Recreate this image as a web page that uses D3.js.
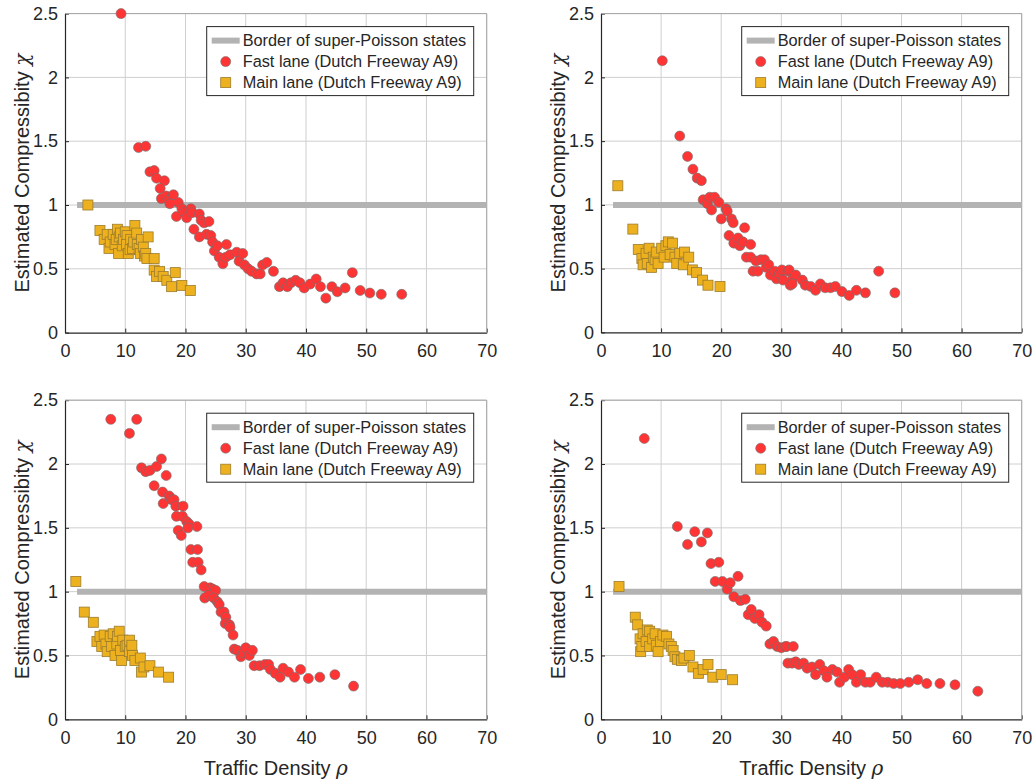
<!DOCTYPE html>
<html>
<head>
<meta charset="utf-8">
<script src="https://cdn.jsdelivr.net/npm/d3@7"></script>
<style>
  html, body { margin: 0; padding: 0; background: #fff; }
  svg { display: block; font-family: "Liberation Sans", Arial, Helvetica, sans-serif; }
</style>
</head>
<body>
<svg id="chart" width="1035" height="782"></svg>
<script>
// Axis ticks shared by every panel
const densityTicks = [0, 10, 20, 30, 40, 50, 60, 70];
const chiTicks = [0, 0.5, 1, 1.5, 2, 2.5];
const chiTickLabels = ["0", "0.5", "1", "1.5", "2", "2.5"];
const borderSegment = [[2, 1], [70, 1]];  // chi = 1 reference line
const legendLabels = ["Border of super-Poisson states", "Fast lane (Dutch Freeway A9)", "Main lane (Dutch Freeway A9)"];

// Measurements: [density, compressibility]
const fastA = [[9.3,2.50],[12.2,1.45],[13.4,1.46],[14.1,1.26],[14.8,1.27],[15.2,1.21],[16.5,1.19],[15.8,1.13],[16.0,1.05],[16.8,1.07],[17.2,1.04],[18.0,1.08],[17.4,1.01],[18.8,1.02],[18.5,0.91],[19.4,0.97],[19.8,0.94],[20.2,0.90],[20.9,0.97],[21.1,0.94],[22.3,0.93],[22.6,0.88],[23.1,0.86],[23.9,0.87],[21.4,0.81],[22.3,0.75],[23.5,0.77],[24.2,0.76],[24.5,0.71],[24.8,0.64],[25.3,0.68],[25.6,0.59],[26.2,0.54],[26.7,0.59],[26.8,0.69],[27.4,0.61],[28.5,0.63],[28.9,0.56],[29.5,0.62],[29.8,0.53],[30.4,0.50],[31.0,0.48],[31.8,0.46],[32.4,0.46],[32.8,0.53],[33.5,0.55],[34.6,0.48],[35.6,0.36],[36.2,0.39],[36.9,0.36],[37.5,0.39],[38.3,0.41],[39.0,0.39],[39.7,0.35],[40.7,0.38],[41.7,0.42],[42.4,0.36],[43.3,0.27],[44.3,0.36],[45.2,0.32],[46.5,0.35],[47.7,0.47],[49.0,0.33],[50.6,0.31],[52.5,0.30],[55.9,0.30]];
const mainA = [[3.8,1.00],[5.8,0.80],[6.5,0.73],[7.0,0.77],[7.3,0.66],[7.5,0.71],[8.0,0.77],[8.7,0.81],[8.3,0.69],[8.5,0.73],[8.9,0.62],[9.0,0.75],[9.2,0.78],[9.5,0.68],[9.7,0.73],[10.0,0.79],[10.3,0.76],[10.2,0.69],[10.5,0.62],[10.8,0.65],[10.9,0.73],[11.2,0.66],[11.4,0.71],[11.6,0.84],[11.9,0.78],[12.0,0.69],[12.3,0.66],[12.5,0.62],[12.7,0.73],[13.0,0.67],[13.2,0.60],[13.4,0.62],[13.8,0.75],[13.6,0.58],[14.8,0.58],[14.8,0.49],[15.2,0.44],[15.7,0.48],[16.3,0.44],[16.9,0.41],[18.3,0.47],[17.7,0.36],[19.4,0.37],[20.8,0.33]];

const fastB = [[10.2,2.13],[13.1,1.54],[14.4,1.38],[15.3,1.28],[16.0,1.21],[16.7,1.19],[17.0,1.04],[17.7,1.01],[18.1,1.06],[18.4,0.96],[18.9,1.06],[19.6,1.02],[20.0,0.89],[20.8,0.97],[21.0,0.95],[21.7,0.89],[22.0,0.86],[21.3,0.76],[22.1,0.70],[22.8,0.74],[23.1,0.68],[23.6,0.71],[23.9,0.82],[24.9,0.69],[24.2,0.59],[24.9,0.59],[25.3,0.48],[25.8,0.56],[26.1,0.48],[26.6,0.57],[27.2,0.57],[27.5,0.51],[27.9,0.53],[28.2,0.45],[28.9,0.48],[29.2,0.42],[29.7,0.46],[30.1,0.49],[30.3,0.41],[31.1,0.48],[31.3,0.49],[31.5,0.37],[31.9,0.42],[32.4,0.45],[31.8,0.38],[33.5,0.41],[34.0,0.37],[34.9,0.36],[35.7,0.33],[36.5,0.38],[37.3,0.35],[38.2,0.35],[39.0,0.36],[40.1,0.32],[41.3,0.29],[42.5,0.33],[44.0,0.31],[46.2,0.48],[48.9,0.31]];
const mainB = [[2.8,1.15],[5.3,0.81],[6.2,0.65],[6.8,0.58],[7.0,0.53],[7.5,0.62],[7.7,0.54],[8.0,0.66],[8.4,0.51],[8.7,0.59],[9.0,0.57],[9.2,0.63],[9.5,0.54],[10.1,0.66],[10.5,0.59],[10.8,0.68],[11.2,0.71],[11.5,0.61],[11.9,0.70],[12.3,0.59],[12.6,0.54],[13.1,0.62],[13.7,0.53],[13.9,0.63],[14.6,0.59],[15.2,0.49],[15.9,0.47],[16.9,0.41],[17.8,0.37],[19.8,0.36]];

const fastC = [[7.6,2.35],[10.7,2.24],[11.9,2.35],[12.7,1.97],[13.4,1.94],[14.1,1.95],[15.2,1.98],[16.0,2.04],[16.8,1.91],[14.8,1.83],[16.2,1.78],[16.3,1.69],[17.3,1.75],[17.7,1.72],[18.1,1.72],[18.4,1.67],[18.5,1.59],[19.6,1.67],[19.5,1.59],[18.8,1.48],[19.3,1.44],[20.2,1.55],[20.6,1.53],[20.4,1.50],[21.9,1.51],[20.9,1.33],[22.0,1.33],[21.2,1.23],[22.1,1.23],[22.6,1.17],[23.1,1.04],[23.2,0.95],[24.1,1.03],[24.5,1.02],[25.0,1.01],[23.8,0.97],[24.7,0.95],[25.3,0.92],[25.6,0.90],[25.9,0.84],[26.4,0.84],[26.7,0.80],[26.6,0.75],[27.3,0.74],[27.4,0.72],[27.9,0.66],[28.1,0.55],[28.6,0.54],[29.2,0.49],[29.6,0.52],[30.0,0.56],[30.6,0.50],[31.1,0.54],[31.4,0.42],[32.3,0.42],[33.2,0.43],[33.8,0.43],[34.1,0.39],[34.9,0.36],[35.7,0.33],[36.2,0.40],[37.1,0.37],[38.1,0.33],[39.1,0.39],[40.4,0.32],[42.3,0.33],[44.8,0.35],[47.9,0.26]];
const mainC = [[1.8,1.08],[3.2,0.84],[4.7,0.76],[5.3,0.61],[5.8,0.65],[6.1,0.57],[6.5,0.66],[6.8,0.59],[7.0,0.53],[7.5,0.65],[7.7,0.57],[8.0,0.67],[8.3,0.50],[8.6,0.59],[8.7,0.65],[9.0,0.69],[9.2,0.54],[9.4,0.46],[9.6,0.62],[10.0,0.57],[10.3,0.58],[10.7,0.53],[10.7,0.62],[11.1,0.58],[11.2,0.50],[11.6,0.46],[12.5,0.48],[12.7,0.37],[13.1,0.41],[14.1,0.42],[15.5,0.37],[17.2,0.33]];

const fastD = [[7.2,2.20],[12.7,1.51],[14.4,1.37],[15.6,1.47],[16.7,1.39],[17.7,1.46],[18.3,1.22],[19.6,1.23],[19.0,1.08],[20.2,1.08],[21.0,1.02],[21.5,1.07],[22.8,1.12],[22.1,0.96],[23.2,0.93],[24.0,0.94],[24.5,0.82],[25.0,0.86],[25.6,0.79],[26.3,0.82],[26.8,0.76],[27.5,0.73],[28.1,0.59],[28.7,0.61],[29.3,0.57],[30.0,0.56],[30.7,0.57],[30.9,0.57],[31.1,0.44],[31.8,0.44],[32.0,0.57],[32.4,0.45],[32.9,0.43],[33.7,0.44],[34.3,0.40],[35.1,0.41],[35.7,0.35],[36.4,0.43],[37.1,0.38],[37.6,0.33],[38.5,0.39],[39.3,0.37],[39.7,0.29],[40.5,0.33],[41.2,0.39],[41.8,0.35],[42.5,0.29],[43.2,0.35],[44.0,0.29],[44.8,0.29],[45.8,0.33],[46.8,0.29],[47.7,0.29],[48.7,0.28],[49.8,0.28],[51.2,0.29],[52.7,0.31],[54.2,0.28],[56.4,0.28],[58.9,0.27],[62.7,0.22]];
const mainD = [[3.0,1.04],[5.7,0.80],[6.1,0.74],[6.5,0.63],[6.6,0.53],[6.8,0.57],[7.0,0.67],[7.5,0.61],[7.7,0.70],[8.1,0.57],[8.1,0.69],[8.6,0.63],[9.0,0.67],[9.2,0.58],[9.5,0.53],[9.9,0.61],[10.3,0.66],[10.9,0.65],[11.3,0.59],[11.7,0.57],[12.0,0.54],[12.3,0.49],[12.7,0.47],[13.4,0.46],[13.8,0.48],[14.7,0.50],[15.3,0.41],[16.2,0.36],[17.0,0.39],[17.8,0.43],[18.6,0.33],[20.0,0.35],[21.9,0.31]];

const panels = [
  { fast: fastA, main: mainA, left: 65,  right: 486.7,  top: 13.6,  bottom: 332.6, labelX: false },
  { fast: fastB, main: mainB, left: 601, right: 1021.7, top: 13.6,  bottom: 332.4, labelX: false },
  { fast: fastC, main: mainC, left: 65,  right: 486.7,  top: 400.2, bottom: 719.3, labelX: true },
  { fast: fastD, main: mainD, left: 601, right: 1021.7, top: 400.2, bottom: 719.3, labelX: true }
];

const RED = "#ff3535", RED_EDGE = "#6e6e6e";
const GOLD = "#edb120", GOLD_EDGE = "#9c7c2c";
const BORDER_GRAY = "#b3b3b3";
const GRID = "#cfcfcf", AXIS = "#262626";

const svg = d3.select("#chart");

panels.forEach(p => {
  const x = d3.scaleLinear().domain([0, 70]).range([p.left, p.right]);
  const y = d3.scaleLinear().domain([0, 2.5]).range([p.bottom, p.top]);
  const g = svg.append("g");

  // grid
  g.append("g").selectAll("line").data(densityTicks.slice(1)).join("line")
    .attr("x1", d => x(d)).attr("x2", d => x(d))
    .attr("y1", p.top).attr("y2", p.bottom)
    .attr("stroke", GRID).attr("stroke-width", 1);
  g.append("g").selectAll("line").data(chiTicks.slice(1)).join("line")
    .attr("x1", p.left).attr("x2", p.right)
    .attr("y1", d => y(d)).attr("y2", d => y(d))
    .attr("stroke", GRID).attr("stroke-width", 1);

  // axes (ticks point inward)
  const xAxis = d3.axisBottom(x).tickValues(densityTicks).tickSizeInner(-4).tickSizeOuter(0).tickPadding(12);
  const yAxis = d3.axisLeft(y).tickValues(chiTicks).tickFormat((d, i) => chiTickLabels[i]).tickSizeInner(-4).tickSizeOuter(0).tickPadding(7);
  const gx = g.append("g").attr("transform", `translate(0,${p.bottom})`).call(xAxis);
  const gy = g.append("g").attr("transform", `translate(${p.left},0)`).call(yAxis);
  [gx, gy].forEach(a => {
    a.select(".domain").attr("stroke", AXIS).attr("stroke-width", 1.2);
    a.selectAll(".tick line").attr("stroke", AXIS);
    a.selectAll(".tick text").attr("fill", "#262626").attr("font-size", 18)
      .attr("font-family", "Liberation Sans, Arial, sans-serif");
  });
  // box top/right
  g.append("path")
    .attr("d", `M${p.left},${p.top}H${p.right}V${p.bottom}`)
    .attr("fill", "none").attr("stroke", "#a6a6a6").attr("stroke-width", 1);

  // chi = 1 border
  g.append("path").datum(borderSegment)
    .attr("d", d3.line().x(d => x(d[0])).y(d => y(d[1])))
    .attr("stroke", BORDER_GRAY).attr("stroke-width", 6).attr("fill", "none");

  // fast lane circles
  g.append("g").selectAll("circle").data(p.fast).join("circle")
    .attr("cx", d => x(d[0])).attr("cy", d => y(d[1])).attr("r", 5)
    .attr("fill", RED).attr("stroke", RED_EDGE).attr("stroke-width", 0.6);

  // main lane squares
  const s = 10;
  g.append("g").selectAll("rect").data(p.main).join("rect")
    .attr("x", d => x(d[0]) - s / 2).attr("y", d => y(d[1]) - s / 2)
    .attr("width", s).attr("height", s)
    .attr("fill", GOLD).attr("stroke", GOLD_EDGE).attr("stroke-width", 0.8);

  // y axis label
  const ylab = g.append("text")
    .attr("transform", `translate(${p.left - 36},${(p.top + p.bottom) / 2}) rotate(-90)`)
    .attr("text-anchor", "middle").attr("font-size", 20).attr("fill", "#262626");
  ylab.append("tspan").text("Estimated Compressibity ");
  ylab.append("tspan").attr("font-family", "DejaVu Serif, serif").attr("font-style", "italic").text("χ");

  if (p.labelX) {
    const xlab = g.append("text")
      .attr("x", (p.left + p.right) / 2).attr("y", p.bottom + 56)
      .attr("text-anchor", "middle").attr("font-size", 20).attr("fill", "#262626");
    xlab.append("tspan").text("Traffic Density ");
    xlab.append("tspan").attr("font-family", "DejaVu Serif, serif").attr("font-style", "italic").text("ρ");
  }

  // legend
  const lw = 267, lh = 69;
  const lx = p.right - 13 - lw, ly = p.top + 13;
  const lg = g.append("g").attr("transform", `translate(${lx},${ly})`);
  lg.append("rect").attr("width", lw).attr("height", lh)
    .attr("fill", "#fff").attr("stroke", "#262626").attr("stroke-width", 1);
  const rows = [14, 35, 56];
  lg.append("line").attr("x1", 5).attr("x2", 33).attr("y1", rows[0]).attr("y2", rows[0])
    .attr("stroke", BORDER_GRAY).attr("stroke-width", 6);
  lg.append("circle").attr("cx", 19).attr("cy", rows[1]).attr("r", 5)
    .attr("fill", RED).attr("stroke", RED_EDGE).attr("stroke-width", 0.6);
  lg.append("rect").attr("x", 14).attr("y", rows[2] - 5).attr("width", 10).attr("height", 10)
    .attr("fill", GOLD).attr("stroke", GOLD_EDGE).attr("stroke-width", 0.8);
  lg.selectAll("text.lab").data(legendLabels).join("text").attr("class", "lab")
    .attr("x", 36).attr("y", (d, i) => rows[i]).attr("dy", "0.35em")
    .attr("font-size", 16.3).attr("fill", "#262626").text(d => d);
});
</script>
</body>
</html>
